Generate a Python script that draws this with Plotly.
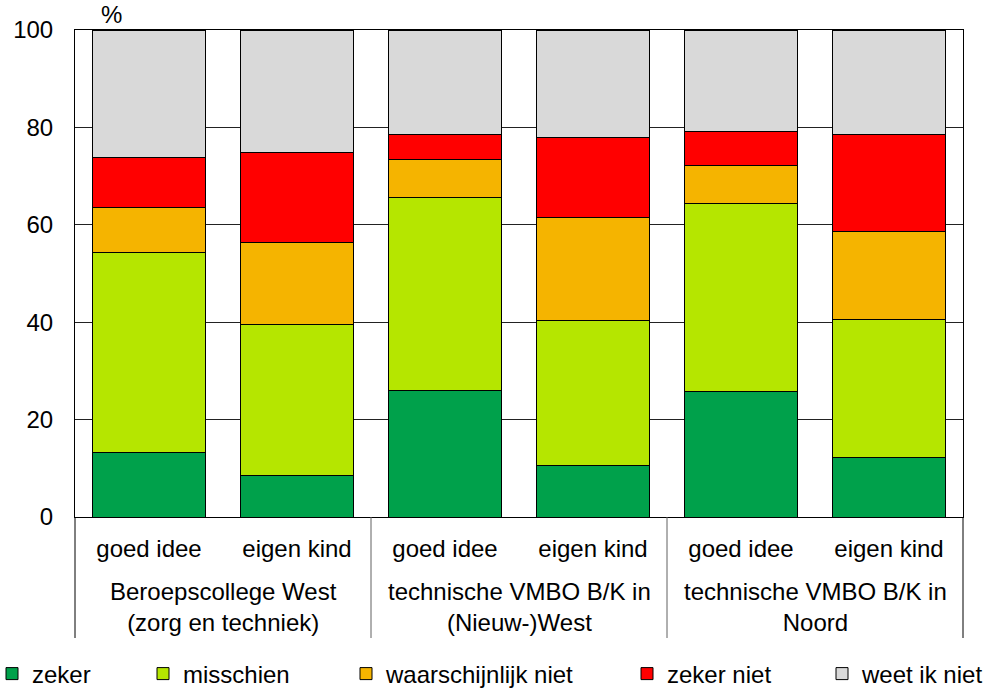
import plotly.graph_objects as go

# ---- data ----
groups = ["Beroepscollege West<br>(zorg en techniek)",
          "technische VMBO B/K in<br>(Nieuw-)West",
          "technische VMBO B/K in<br>Noord"]
subcats = ["goed idee", "eigen kind"]
series_names = ["zeker", "misschien", "waarschijnlijk niet", "zeker niet", "weet ik niet"]
zeker = [13.2, 8.5, 26.0, 10.5, 25.8, 12.3]
misschien = [41.2, 31.0, 39.7, 29.9, 38.6, 28.2]
waarschijnlijk_niet = [9.1, 16.9, 7.7, 21.1, 7.8, 18.2]
zeker_niet = [10.4, 18.5, 5.1, 16.5, 7.0, 19.9]
weet_ik_niet = [26.1, 25.1, 21.5, 22.0, 20.8, 21.4]
y_ticks = [0, 20, 40, 60, 80, 100]

colors = ["#00A14B", "#B5E600", "#F5B400", "#FF0000", "#D9D9D9"]
series_values = [zeker, misschien, waarschijnlijk_niet, zeker_niet, weet_ik_niet]

FONT = "Liberation Sans, Arial, sans-serif"
FS = 24
W, H = 1006, 692
L, R, T, B = 75, 43, 30, 175
pw, ph = W - L - R, H - T - B

def px_x(p):
    return (p - L) / pw

def px_y(p):
    return (H - B - p) / ph

x_idx = list(range(len(groups) * len(subcats)))
tick_text = [s for g in groups for s in subcats]

fig = go.Figure()
legend_names = ["legend", "legend2", "legend3", "legend4", "legend5"]
for name, vals, col, lg in zip(series_names, series_values, colors, legend_names):
    fig.add_trace(go.Bar(
        x=x_idx, y=vals, name=name, legend=lg,
        marker=dict(color=col, line=dict(color="#000000", width=1)),
    ))

# legend positions (text start in px)
text_start = [32, 183, 386, 667, 862]
leg_layout = {}
for lg, tx in zip(legend_names, text_start):
    leg_layout[lg] = dict(
        x=px_x(tx - 40), xref="paper", xanchor="left",
        y=px_y(674), yref="paper", yanchor="middle",
        orientation="h", font=dict(family=FONT, size=FS, color="#000"),
        bgcolor="rgba(0,0,0,0)", borderwidth=0, itemwidth=30,
    )

fig.update_layout(
    width=W, height=H,
    margin=dict(l=L, r=R, t=T, b=B, autoexpand=False),
    barmode="stack", bargap=0.23,
    plot_bgcolor="white", paper_bgcolor="white",
    font=dict(family=FONT, size=FS, color="#000"),
    showlegend=True,
    **leg_layout,
)
fig.update_xaxes(
    range=[-0.5, 5.5], tickvals=x_idx, ticktext=tick_text, automargin=False,
    showgrid=False, showline=True, linecolor="#000", linewidth=1, mirror=True,
    ticks="", ticklabelstandoff=10, tickfont=dict(family=FONT, size=FS, color="#000"),
    zeroline=False,
)
fig.update_yaxes(
    range=[0, 100], tickvals=y_ticks, showgrid=True, gridcolor="#222", gridwidth=1,
    showline=True, linecolor="#000", linewidth=1, mirror=True, automargin=False,
    ticks="", ticklabelstandoff=16, tickfont=dict(family=FONT, size=FS, color="#000"),
    zeroline=False,
)

# group separators in the category area
shapes = []
for i in range(len(groups) + 1):
    xp = i / len(groups)
    col = "#000" if i in (0, len(groups)) else "#606060"
    shapes.append(dict(type="line", xref="paper", yref="paper", x0=xp, x1=xp,
                       y0=0, y1=px_y(638), line=dict(color=col, width=1)))
fig.update_layout(shapes=shapes)

annotations = []
for i, g in enumerate(groups):
    annotations.append(dict(text=g, xref="paper", yref="paper",
                            x=(i + 0.5) / len(groups), y=px_y(607), xanchor="center",
                            yanchor="middle", showarrow=False,
                            font=dict(family=FONT, size=FS, color="#000")))
annotations.append(dict(text="%", xref="paper", yref="paper", x=px_x(99), y=px_y(15),
                        xanchor="left", yanchor="middle", showarrow=False,
                        font=dict(family=FONT, size=FS, color="#000")))
fig.update_layout(annotations=annotations)

fig.write_html("out.html", config={"displayModeBar": False},
               post_script="document.body.style.margin='0';")
